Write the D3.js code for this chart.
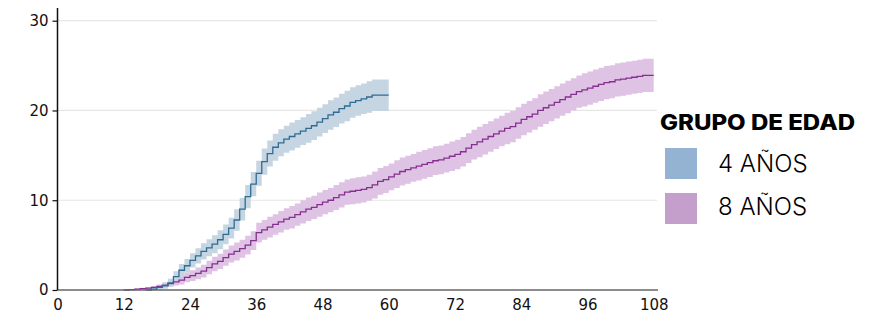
<!DOCTYPE html>
<html>
<head>
<meta charset="utf-8">
<script src="https://cdn.jsdelivr.net/npm/d3@7"></script>
<style>
  html, body { margin: 0; padding: 0; background: #fff; }
  svg { display: block; }
</style>
</head>
<body>
<svg id="chart" width="883" height="331"></svg>
<script>
// ---- data (months, cumulative values) ----
const xTicks = [0, 12, 24, 36, 48, 60, 72, 84, 96, 108];
const yTicks = [0, 10, 20, 30];
const seriesNames = ["4 AÑOS", "8 AÑOS"];
const legendTitle = "GRUPO DE EDAD";

// 4 años: value for months 0..59, curve ends at month 60
const blueValues = [
  0,0,0,0,0,0,0,0,0,0, 0,0,0,0,0,0,0,0.1,0.3,0.5,
  0.8,1.5,2.2,2.7,3.3,3.8,4.3,4.7,5.1,5.6,
  6.2,6.9,7.8,9.0,10.4,11.8,13.0,14.3,15.2,15.9,
  16.4,16.8,17.1,17.4,17.7,18.0,18.3,18.7,19.1,19.5,
  19.8,20.2,20.5,20.9,21.1,21.3,21.5,21.7,21.7,21.7
];
const blueHalfCI = [
  0,0,0,0,0,0,0,0,0,0, 0,0,0,0,0,0,0,0.15,0.25,0.35,
  0.45,0.6,0.7,0.75,0.8,0.85,0.9,0.95,1.0,1.05,
  1.1,1.15,1.2,1.25,1.3,1.35,1.4,1.45,1.45,1.5,
  1.5,1.5,1.55,1.55,1.55,1.6,1.6,1.6,1.6,1.65,
  1.65,1.65,1.7,1.7,1.7,1.7,1.75,1.75,1.75,1.75
];
const blueEnd = 60;

// 8 años: value for months 0..107, curve ends at month 108
const purpleValues = [
  0,0,0,0,0,0,0,0,0,0, 0,0,0,0.05,0.1,0.15,0.2,0.3,0.4,0.5,
  0.7,0.9,1.1,1.4,1.6,1.85,2.1,2.5,2.9,3.2,
  3.6,4.0,4.3,4.6,5.0,5.5,6.4,6.7,7.0,7.3,
  7.6,7.9,8.1,8.4,8.7,9.0,9.2,9.5,9.8,10.0,
  10.3,10.6,10.9,11.0,11.1,11.2,11.4,11.7,12.1,12.3,
  12.6,12.9,13.2,13.4,13.6,13.8,14.0,14.2,14.4,14.5,
  14.7,14.9,15.1,15.4,15.8,16.2,16.5,16.8,17.1,17.4,
  17.7,18.0,18.2,18.6,19.0,19.3,19.6,20.0,20.3,20.6,
  20.9,21.2,21.5,21.8,22.1,22.3,22.5,22.7,22.9,23.1,
  23.2,23.4,23.5,23.6,23.7,23.8,23.9,23.9
];
const purpleHalfCI = [
  0,0,0,0,0,0,0,0,0,0, 0,0,0,0.05,0.08,0.1,0.12,0.15,0.2,0.25,
  0.3,0.4,0.5,0.55,0.6,0.65,0.7,0.75,0.8,0.85,
  0.9,0.95,1.0,1.0,1.05,1.05,1.1,1.1,1.15,1.15,
  1.2,1.2,1.25,1.25,1.3,1.3,1.3,1.35,1.35,1.35,
  1.4,1.4,1.4,1.45,1.45,1.45,1.45,1.5,1.5,1.5,
  1.5,1.55,1.55,1.55,1.55,1.6,1.6,1.6,1.6,1.6,
  1.6,1.65,1.65,1.65,1.65,1.65,1.7,1.7,1.7,1.7,
  1.7,1.75,1.75,1.75,1.75,1.75,1.75,1.8,1.8,1.8,
  1.8,1.8,1.8,1.8,1.8,1.85,1.85,1.85,1.85,1.85,
  1.85,1.85,1.85,1.85,1.85,1.85,1.85,1.85
];
const purpleEnd = 108;

// ---- styles ----
const colors = {
  blueBand: "#c2d4e0", blueLine: "#2f6b93", blueSwatch: "#94b3d2",
  purpleBand: "#dfc3e4", purpleLine: "#85308f", purpleSwatch: "#c59fcc"
};

const svg = d3.select("#chart");
const x = d3.scaleLinear().domain([0, 108]).range([57.5, 653.7]);
const y = d3.scaleLinear().domain([0, 30]).range([290, 20.7]);

// gridlines
svg.append("g").selectAll("line").data(yTicks.filter(d => d > 0)).join("line")
  .attr("x1", 57.5).attr("x2", 657)
  .attr("y1", d => y(d)).attr("y2", d => y(d))
  .attr("stroke", "#e6e6e6").attr("stroke-width", 1.2);

function build(values, half, end) {
  const first = Math.max(0, values.findIndex(v => v > 0) - 1);
  const pts = [];
  for (let m = first; m < values.length; m++) pts.push({m, v: values[m], h: half[m]});
  pts.push({m: end, v: values[values.length - 1], h: half[half.length - 1]});
  return pts;
}
const blue = build(blueValues, blueHalfCI, blueEnd);
const purple = build(purpleValues, purpleHalfCI, purpleEnd);

const area = d3.area().curve(d3.curveStepAfter)
  .x(d => x(d.m)).y0(d => y(Math.max(0, d.v - d.h))).y1(d => y(d.v + d.h));
const line = d3.line().curve(d3.curveStepAfter).x(d => x(d.m)).y(d => y(d.v));

svg.append("path").datum(purple).attr("d", area).attr("fill", colors.purpleBand);
svg.append("path").datum(blue).attr("d", area).attr("fill", colors.blueBand).attr("fill-opacity", 0.95);
svg.append("path").datum(purple).attr("d", line).attr("fill", "none")
  .attr("stroke", colors.purpleLine).attr("stroke-width", 1.3);
svg.append("path").datum(blue).attr("d", line).attr("fill", "none")
  .attr("stroke", colors.blueLine).attr("stroke-width", 1.3);

const tickFont = "DejaVu Sans, Verdana, sans-serif";

// x axis
const xAxis = d3.axisBottom(x).tickValues(xTicks).tickSize(0).tickPadding(9);
const gx = svg.append("g").attr("transform", "translate(0,290)").call(xAxis);
gx.select(".domain").attr("d", "M57.5,0H658").attr("stroke", "#666").attr("stroke-width", 1.3);
gx.selectAll("text").attr("font-family", tickFont)
  .attr("font-size", 15).attr("fill", "#111");

// y axis
const yAxis = d3.axisLeft(y).tickValues(yTicks).tickSize(5).tickPadding(4);
const gy = svg.append("g").attr("transform", "translate(57.5,0)").call(yAxis);
gy.select(".domain").attr("d", "M0,8V290").attr("stroke", "#111").attr("stroke-width", 1.5);
gy.selectAll(".tick line").attr("stroke", "#111").attr("stroke-width", 1.2);
gy.selectAll("text").attr("font-family", tickFont)
  .attr("font-size", 15).attr("fill", "#111");

// legend
const lg = svg.append("g");
lg.append("text").attr("x", 660).attr("y", 130).text(legendTitle)
  .attr("font-family", "Inter, sans-serif").attr("font-weight", 800)
  .attr("font-size", 21).attr("fill", "#000")
  .attr("textLength", 195).attr("lengthAdjust", "spacingAndGlyphs");
const sw = [colors.blueSwatch, colors.purpleSwatch];
seriesNames.forEach((name, i) => {
  lg.append("rect").attr("x", 665).attr("y", 148 + i * 45).attr("width", 32).attr("height", 31)
    .attr("fill", sw[i]);
  lg.append("text").attr("x", 718).attr("y", 172 + i * 43).text(name)
    .attr("font-family", "Inter, sans-serif").attr("font-weight", 300)
    .attr("font-size", 24).attr("fill", "#000");
});
</script>
</body>
</html>
